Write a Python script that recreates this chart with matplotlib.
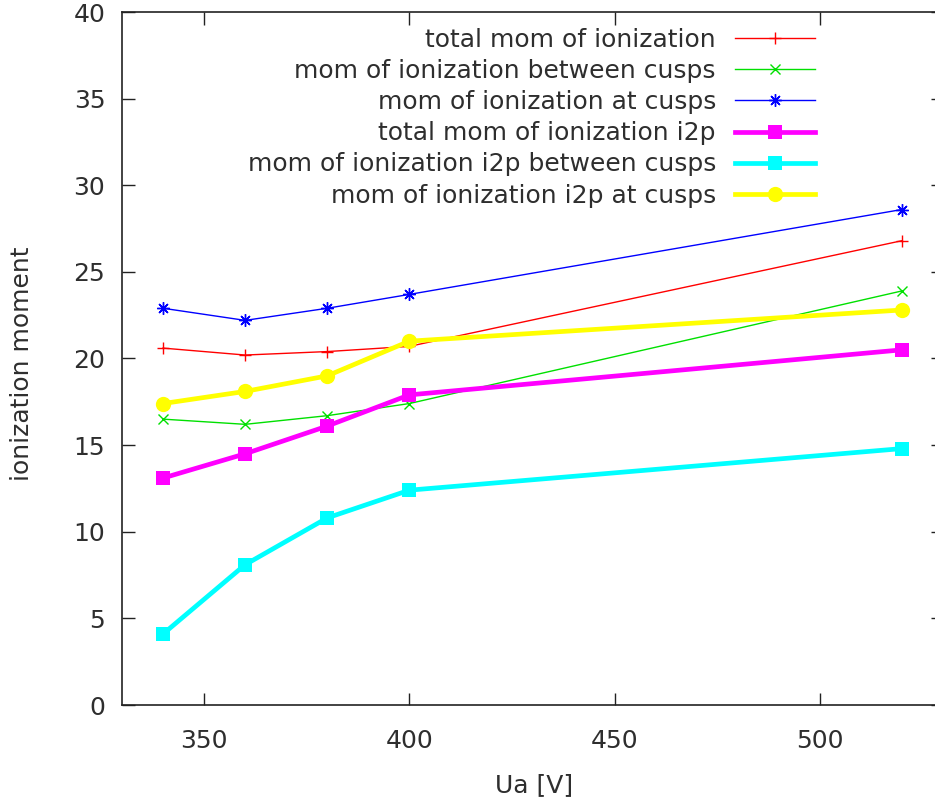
import matplotlib
matplotlib.use("Agg")
import matplotlib.pyplot as plt

# Anode voltage [V]
ua = [340, 360, 380, 400, 520]

# Ionization moments
total_mom = [20.6, 20.2, 20.4, 20.7, 26.8]
between_cusps = [16.5, 16.2, 16.7, 17.4, 23.9]
at_cusps = [22.9, 22.2, 22.9, 23.7, 28.6]
total_i2p = [13.1, 14.5, 16.1, 17.9, 20.5]
between_cusps_i2p = [4.1, 8.1, 10.8, 12.4, 14.8]
at_cusps_i2p = [17.4, 18.1, 19.0, 21.0, 22.8]

labels = [
    "total mom of ionization",
    "mom of ionization between cusps",
    "mom of ionization at cusps",
    "total mom of ionization i2p",
    "mom of ionization i2p between cusps",
    "mom of ionization i2p at cusps",
]

x_ticks = [350, 400, 450, 500]
y_ticks = [0, 5, 10, 15, 20, 25, 30, 35, 40]

plt.rcParams["font.family"] = ["DejaVu Sans"]
plt.rcParams["font.size"] = 18
text_color = "#2e2e2e"

W, H = 935, 805
fig = plt.figure(figsize=(W / 100, H / 100), dpi=100)

# axes box in pixel coordinates: left 122, right 943, top 12, bottom 705
left, right, top, bottom = 122, 943, 12, 705
ax = fig.add_axes([left / W, (H - bottom) / H, (right - left) / W, (bottom - top) / H])

thin = 1.0
thick = 3.4
ax.plot(ua, total_mom, color="#ff0000", lw=thin, marker="+", ms=9, mew=1.0, label=labels[0])
ax.plot(ua, between_cusps, color="#00e000", lw=thin, marker="x", ms=7.5, mew=1.0, label=labels[1])
ax.plot(ua, at_cusps, color="#0000ff", lw=thin, marker=(8, 2, 0), ms=9, mew=1.0, label=labels[2])
ax.plot(ua, total_i2p, color="#ff00ff", lw=thick, marker="s", ms=10, mew=0, label=labels[3])
ax.plot(ua, between_cusps_i2p, color="#00ffff", lw=thick, marker="s", ms=10, mew=0, label=labels[4])
ax.plot(ua, at_cusps_i2p, color="#ffff00", lw=thick, marker="o", ms=11, mew=0, label=labels[5])

ax.set_xlim(330, 530)
ax.set_ylim(0, 40)
ax.set_xticks(x_ticks)
ax.set_yticks(y_ticks)

for s in ax.spines.values():
    s.set_color("#222222")
    s.set_linewidth(1.2)

ax.tick_params(direction="in", length=9, width=1.0, color="#222222",
               top=True, right=True, labelsize=18, labelcolor=text_color)
ax.tick_params(axis="x", pad=17.5)
ax.tick_params(axis="y", pad=12)

fig.text(534 / W, 1 - 785 / H, "Ua [V]", ha="center", va="center", fontsize=18, color=text_color)
fig.text(22 / W, 1 - 364 / H, "ionization moment", ha="center", va="center",
         rotation=90, fontsize=18, color=text_color)

leg = ax.legend(loc="upper right", bbox_to_anchor=(815 / W, 1 - 28 / H),
                bbox_transform=fig.transFigure, frameon=False, markerfirst=False,
                borderpad=0, borderaxespad=0, handlelength=3.2, handletextpad=0.76,
                labelspacing=0.285, fontsize=18)
for t in leg.get_texts():
    t.set_color(text_color)

fig.savefig("out.png", dpi=100)
